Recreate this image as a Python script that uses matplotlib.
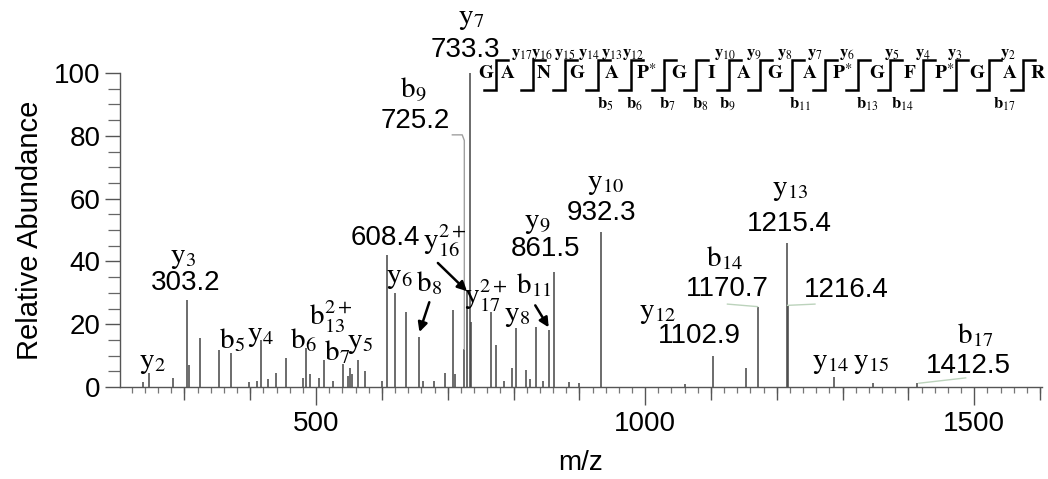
import matplotlib
matplotlib.use("Agg")
import matplotlib.pyplot as plt
from matplotlib.ticker import MultipleLocator

plt.rcParams['font.family'] = ['Liberation Sans', 'DejaVu Sans']
plt.rcParams['mathtext.fontset'] = 'stix'

# centroided MS/MS peaks: m/z and relative abundance (%)
mz = [236.6, 246.2, 283.0, 303.2, 306.5, 323.7, 353.0, 371.2, 398.6, 410.0,
      416.2, 427.5, 439.0, 454.0, 480.7, 484.2, 491.0, 505.0, 512.2, 525.0,
      541.2, 548.6, 551.7, 554.7, 563.3, 574.5, 600.0, 608.4, 620.3, 636.8,
      656.0, 663.0, 679.4, 696.0, 707.7, 711.0, 725.2, 729.3, 733.3, 734.6,
      765.5, 773.6, 785.0, 797.0, 804.4, 818.7, 825.0, 834.4, 844.0, 853.4,
      861.5, 885.0, 900.0, 932.3, 1060.0, 1102.9, 1153.6, 1170.7, 1215.4, 1216.4,
      1287.5, 1345.6, 1412.5]
abund = [1.7, 4.4, 2.8, 27.7, 7.0, 15.5, 11.8, 10.7, 1.5, 2.0,
         15.0, 2.5, 4.3, 9.3, 3.0, 12.4, 4.0, 3.0, 8.6, 2.0,
         7.2, 3.5, 6.1, 4.0, 8.6, 5.0, 2.0, 42.0, 29.8, 24.0,
         16.0, 2.0, 2.0, 4.4, 24.5, 4.0, 12.0, 31.0, 100.0, 20.7,
         24.0, 13.4, 2.0, 6.0, 18.7, 5.5, 2.5, 19.2, 2.0, 18.0,
         36.7, 1.5, 1.2, 49.5, 1.0, 10.0, 6.0, 25.6, 46.0, 26.0,
         3.3, 1.3, 1.2]

# peptide sequence (P* = hydroxyproline) and the fragment ions seen
sequence = ['G', 'A', 'N', 'G', 'A', 'P*', 'G', 'I', 'A', 'G', 'A', 'P*',
            'G', 'F', 'P*', 'G', 'A', 'R']
y_ions = ['17', '16', '15', '14', '13', '12', '10', '9', '8', '7', '6',
          '5', '4', '3', '2']
b_ions = ['5', '6', '7', '8', '9', '11', '13', '14', '17']


def height(m):
    return abund[mz.index(m)]


W, H = 1048, 479
fig = plt.figure(figsize=(W / 100, H / 100), dpi=100)
ax = fig.add_axes([120 / W, 92 / H, 922 / W, 314 / H])

ax.vlines(mz, 0, abund, color='#444444', lw=1.1)

ax.set_xlim(202, 1603)
ax.set_ylim(0, 100)
for s in ('top', 'right'):
    ax.spines[s].set_visible(False)
for s in ('left', 'bottom'):
    ax.spines[s].set_color('#555555')
    ax.spines[s].set_linewidth(1.0)

ax.set_xticks([500, 1000, 1500])
ax.xaxis.set_minor_locator(MultipleLocator(20))
ax.set_yticks(range(0, 101, 20))
ax.yaxis.set_minor_locator(MultipleLocator(5))
ax.tick_params(axis='x', which='major', length=13, width=1.0, color='#555555',
               labelsize=20, pad=4)
ax.tick_params(axis='x', which='minor', length=4.3, width=0.9, color='#777777')
ax.tick_params(axis='y', which='major', length=10.8, width=1.0, color='#555555',
               labelsize=20, pad=3)
ax.tick_params(axis='y', which='minor', length=8.6, width=0.9, color='#666666')

# mid-length ticks every 100 on a twin axis
ax2 = ax.twiny()
ax2.set_xlim(ax.get_xlim())
ax2.xaxis.set_ticks_position('bottom')
ax2.set_xticks([m for m in range(300, 1601, 100) if m % 500])
ax2.tick_params(axis='x', length=9.4, width=1.0, color='#555555',
                labelbottom=False, labeltop=False)
for s in ax2.spines.values():
    s.set_visible(False)

ax.set_xlabel('m/z', fontsize=20)
ax.xaxis.set_label_coords(0.5, -0.242)
ax.xaxis.label.set_va('center')
ax.set_ylabel('Relative Abundance', fontsize=21)
ax.yaxis.set_label_coords(-0.098, 0.5)
ax.yaxis.label.set_va('center')

# ion names over the peaks
ion_labels = [
    (r'$\mathrm{y}_{7}$', 735, 117.5),
    (r'$\mathrm{b}_{9}$', 647, 94.5),
    (r'$\mathrm{y}_{3}$', 298, 41.5),
    (r'$\mathrm{y}_{2}$', 250.7, 8),
    (r'$\mathrm{b}_{5}$', 372, 15),
    (r'$\mathrm{y}_{4}$', 415, 16.5),
    (r'$\mathrm{b}_{6}$', 480, 15),
    (r'$\mathrm{b}_{13}^{2+}$', 522, 22.5),
    (r'$\mathrm{b}_{7}$', 532, 11),
    (r'$\mathrm{y}_{5}$', 566, 14.3),
    (r'$\mathrm{y}_{16}^{2+}$', 695, 46.5),
    (r'$\mathrm{y}_{6}$', 626, 35),
    (r'$\mathrm{b}_{8}$', 672, 33),
    (r'$\mathrm{y}_{17}^{2+}$', 758, 29),
    (r'$\mathrm{y}_{9}$', 836, 52.5),
    (r'$\mathrm{b}_{11}$', 830, 32.5),
    (r'$\mathrm{y}_{8}$', 805.5, 23),
    (r'$\mathrm{y}_{10}$', 939, 65),
    (r'$\mathrm{y}_{13}$', 1220, 63),
    (r'$\mathrm{b}_{14}$', 1120, 41),
    (r'$\mathrm{y}_{12}$', 1018, 24),
    (r'$\mathrm{y}_{14}$', 1281, 8),
    (r'$\mathrm{y}_{15}$', 1343.6, 8),
    (r'$\mathrm{b}_{17}$', 1501.7, 16.5),
]
for txt, x, y in ion_labels:
    ax.text(x, y, txt, fontsize=21, ha='center', va='center')

mass_labels = [
    (733.3, 727, 107.2), (725.2, 650, 84.7), (303.2, 302.4, 33.2),
    (608.4, 606, 47.5), (861.5, 848, 44), (932.3, 933, 55.4),
    (1215.4, 1219, 52), (1170.7, 1125, 31.2), (1102.9, 1082, 16.2),
    (1216.4, 1305.6, 31), (1412.5, 1491, 6.7),
]
for m, x, y in mass_labels:
    ax.text(x, y, f'{m:.1f}', fontsize=20, ha='center', va='center')

# arrows to crowded peaks
for (x0, y0), (x1, y1) in [((685, 39.5), (729.3, 30.5)),
                           ((672, 27), (657, 17.5)),
                           ((833, 26), (853.4, 19))]:
    ax.annotate('', xy=(x1, y1), xytext=(x0, y0),
                arrowprops=dict(arrowstyle='-|>', color='black', lw=1.8,
                                mutation_scale=14, shrinkA=0, shrinkB=0))

# thin leader lines from labels to peaks
ax.plot([707, 722, 725.2, 725.2], [80.3, 80.3, 78.5, height(725.2)],
        color='#a0a0a0', lw=1.0)
lead = '#bcd3bc'
ax.plot([1125, 1170.7], [26.4, height(1170.7)], color=lead, lw=1.0)
ax.plot([1216.4, 1258], [height(1216.4), 26.4], color=lead, lw=1.0)
ax.plot([1416, 1487], [height(1412.5), 2.9], color=lead, lw=1.0)

# fragmentation map, drawn in pixel space on a transparent overlay
ov = fig.add_axes([0, 0, 1, 1])
ov.set_xlim(0, W)
ov.set_ylim(H, 0)
ov.axis('off')

res_x = [486.5, 507.7, 544, 577, 611.5, 646, 679, 711.5, 744, 775, 809.6,
         842, 877, 909.6, 944, 977, 1009.6, 1038.5]
cut_x = [496, 533, 565, 598, 631, 663.5, 696, 729, 759.6, 792, 825, 857.7,
         890, 923, 955.8, 988.5, 1023]
y_x = [522, 542, 565, 588.5, 611.5, 632.7, 725, 754, 784.6, 815, 847,
       892, 923, 954.6, 1007.7]
b_x = [605.8, 634.6, 667.3, 700, 727, 800, 867.3, 902, 1003.8]

for res, x in zip(sequence, res_x):
    txt = r'$\mathbf{P}^{\ast}$' if res == 'P*' else r'$\mathbf{%s}$' % res
    ov.text(x, 73, txt, fontsize=14, ha='center', va='center')
for x in cut_x:
    ov.plot([x - 12, x, x, x + 12], [90.4, 90.4, 59.6, 59.6],
            color='black', lw=1.8, solid_joinstyle='miter')
for n, x in zip(y_ions, y_x):
    ov.text(x, 54, r'$\mathbf{y}_{%s}$' % n, fontsize=12, ha='center', va='center')
for n, x in zip(b_ions, b_x):
    ov.text(x, 104, r'$\mathbf{b}_{%s}$' % n, fontsize=12, ha='center', va='center')

fig.savefig('out.png', dpi=100)
